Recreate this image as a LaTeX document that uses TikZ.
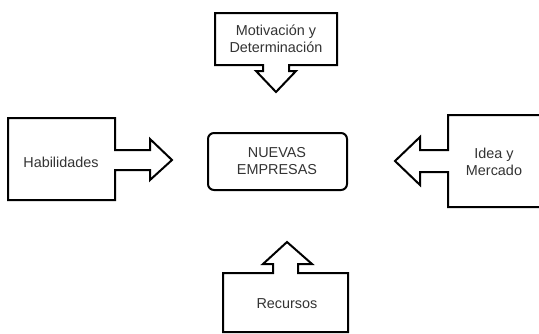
\documentclass[tikz,border=0pt]{standalone}
\usepackage{fontspec}
\setmainfont{Liberation Sans}
\usetikzlibrary{positioning}

\tikzset{
  callout/.style={draw, line width=2pt, line join=miter, fill=white},
  label/.style={align=center, font=\fontsize{14.4}{17}\selectfont, text=black!80},
}

\begin{document}
\begin{tikzpicture}[x=1pt, y=-1pt]
\useasboundingbox (0,0) rectangle (539,333);
\clip (0,0) rectangle (539,333);
% central box
\draw[line width=2pt, rounded corners=6pt] (208,133) rectangle (347,190);
\node[label] (nuevas) at (277,161) {NUEVAS\\EMPRESAS};
% top: motivation
\draw[callout] (215,13) -- (337,13) -- (337,65) -- (289,65) -- (289,71) -- (296,71)
  -- (276,92) -- (256,71) -- (263,71) -- (263,65) -- (215,65) -- cycle;
\node[label] (motivacion) at (276,39) {Motivación y\\Determinación};
% left: skills
\draw[callout] (8,118) -- (115,118) -- (115,150) -- (150,150) -- (150,139)
  -- (172,160) -- (150,180) -- (150,170) -- (115,170) -- (115,200) -- (8,200) -- cycle;
\node[label] (habilidades) at (61,162) {Habilidades};
% right: idea and market
\draw[callout] (548,115) -- (448,115) -- (448,150) -- (420,150) -- (420,137)
  -- (395,161) -- (420,185) -- (420,172) -- (448,172) -- (448,207) -- (548,207);
\node[label] (idea) at (494,162) {Idea y\\Mercado};
% bottom: resources
\draw[callout] (223,332) -- (223,273) -- (273,273) -- (273,264) -- (263,264)
  -- (287,242) -- (312,264) -- (298,264) -- (298,273) -- (348,273) -- (348,332) -- cycle;
\node[label] (recursos) at (287,304) {Recursos};
\end{tikzpicture}
\end{document}
